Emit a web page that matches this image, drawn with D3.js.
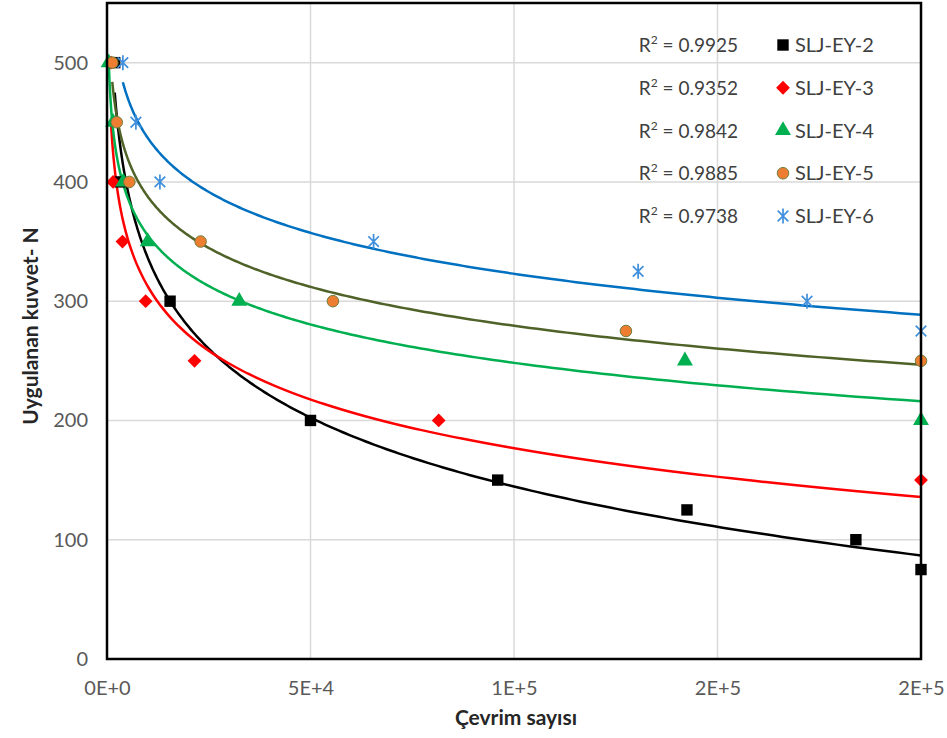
<!DOCTYPE html>
<html>
<head>
<meta charset="utf-8">
<script src="https://cdn.jsdelivr.net/npm/d3@7/dist/d3.min.js"></script>
<style>
    body { margin: 0; background: #fff; }
    svg { display: block; }
    text { font-family: Lato, "Open Sans", sans-serif; }
</style>
</head>
<body>
<div id="chart"></div>
<script>
// ---------------- data (cycles, applied load N)
const seriesNames = ["SLJ-EY-2", "SLJ-EY-3", "SLJ-EY-4", "SLJ-EY-5", "SLJ-EY-6"]
const ey2 = [[1900, 500], [3300, 400], [15500, 300], [50000, 200], [96000, 150], [142500, 125], [184000, 100], [200000, 75]]
const ey3 = [[1000, 500], [1500, 400], [3800, 350], [9500, 300], [21500, 250], [81500, 200], [200000, 150]]
const ey4 = [[400, 500], [1500, 450], [4000, 400], [10000, 350], [32500, 300], [142000, 250], [200000, 200]]
const ey5 = [[1300, 500], [2400, 450], [5500, 400], [23000, 350], [55500, 300], [127500, 275], [200000, 250]]
const ey6 = [[3900, 500], [7100, 450], [13000, 400], [65500, 350], [130500, 325], [172000, 300], [200000, 275]]
const rSquared = ["0.9925", "0.9352", "0.9842", "0.9885", "0.9738"]

const xTickValues = [0, 50000, 100000, 150000, 200000]
const xTickLabels = ["0E+0", "5E+4", "1E+5", "2E+5", "2E+5"]
const yTickValues = [0, 100, 200, 300, 400, 500]

// ---------------- dimensions
const dimensions = {
    width: 947,
    height: 738,
    margin: { top: 3, right: 26, bottom: 79, left: 107 }
}
dimensions.boundedWidth = dimensions.width - dimensions.margin.left - dimensions.margin.right
dimensions.boundedHeight = dimensions.height - dimensions.margin.top - dimensions.margin.bottom

const wrapper = d3.select("#chart")
    .append("svg")
    .attr("width", dimensions.width)
    .attr("height", dimensions.height)

const bounds = wrapper.append("g")
    .attr("transform", `translate(${dimensions.margin.left},${dimensions.margin.top})`)

// ---------------- scales
const xScale = d3.scaleLinear()
    .domain([0, 200000])
    .range([0, dimensions.boundedWidth])

const yScale = d3.scaleLinear()
    .domain([0, 550])
    .range([dimensions.boundedHeight, 0])

const allSeries = [ey2, ey3, ey4, ey5, ey6]
const lineColors = ["#000000", "#ff0000", "#00b050", "#4f6228", "#0070c0"]
const markerFill = ["#000000", "#ff0000", "#00b050", "#ed7d31", "none"]
const markerStroke = ["none", "none", "none", "#6f7f3a", "#3f8fdc"]

// ---------------- grid
bounds.append("g")
    .selectAll("line")
    .data(yTickValues.filter(d => d > 0))
    .join("line")
    .attr("x1", 0)
    .attr("x2", dimensions.boundedWidth)
    .attr("y1", d => yScale(d))
    .attr("y2", d => yScale(d))
    .attr("stroke", "#d9d9d9")
    .attr("stroke-width", 1.5)

bounds.append("g")
    .selectAll("line")
    .data(xTickValues.slice(1, -1))
    .join("line")
    .attr("x1", d => xScale(d))
    .attr("x2", d => xScale(d))
    .attr("y1", 0)
    .attr("y2", dimensions.boundedHeight)
    .attr("stroke", "#d9d9d9")
    .attr("stroke-width", 1.5)

// ---------------- axes
const xAxisGenerator = d3.axisBottom(xScale)
    .tickValues(xTickValues)
    .tickSize(0)
    .tickPadding(22)
    .tickFormat((d, i) => xTickLabels[i])

const yAxisGenerator = d3.axisLeft(yScale)
    .tickValues(yTickValues)
    .tickSize(0)
    .tickPadding(19)

const xAxis = bounds.append("g")
    .attr("transform", `translate(0,${dimensions.boundedHeight})`)
    .call(xAxisGenerator)
const yAxis = bounds.append("g")
    .call(yAxisGenerator)

for (const ax of [xAxis, yAxis]) {
    ax.select(".domain").remove()
    ax.selectAll("text")
        .attr("fill", "#595959")
        .style("font-size", "20px")
        .style("font-family", "Lato, sans-serif")
}

// axis titles
wrapper.append("text")
    .attr("x", 516)
    .attr("y", 725)
    .attr("text-anchor", "middle")
    .style("font-size", "21px")
    .style("font-weight", "bold")
    .attr("fill", "#262626")
    .text("Çevrim sayısı")

wrapper.append("text")
    .attr("transform", "translate(38,326) rotate(-90)")
    .attr("text-anchor", "middle")
    .style("font-size", "21px")
    .style("font-weight", "bold")
    .attr("fill", "#262626")
    .text("Uygulanan kuvvet- N")

// ---------------- logarithmic trendlines (least squares y = a ln x + b)
function logFit(points) {
    const lx = points.map(p => Math.log(p[0]))
    const ys = points.map(p => p[1])
    const mx = d3.mean(lx), my = d3.mean(ys)
    const a = d3.sum(lx, (v, i) => (v - mx) * (ys[i] - my)) / d3.sum(lx, v => (v - mx) ** 2)
    const b = my - a * mx
    return x => a * Math.log(x) + b
}

const lineGenerator = d3.line()
    .x(d => xScale(d[0]))
    .y(d => yScale(d[1]))

const trendGroup = bounds.append("g")
allSeries.forEach((points, i) => {
    const f = logFit(points)
    const [x0, x1] = d3.extent(points, d => d[0])
    const samples = d3.range(0, 301).map(k => {
        const x = Math.exp(Math.log(x0) + (Math.log(x1) - Math.log(x0)) * k / 300)
        return [x, f(x)]
    })
    trendGroup.append("path")
        .attr("d", lineGenerator(samples))
        .attr("fill", "none")
        .attr("stroke", lineColors[i])
        .attr("stroke-width", 2.5)
})

// ---------------- markers
const starPath = r => {
    const c = r * Math.SQRT1_2
    return `M0,${-r}L0,${r}M${-c},${-c}L${c},${c}M${-c},${c}L${c},${-c}`
}
const markerPath = [
    d3.symbol(d3.symbolSquare, 130)(),
    d3.symbol(d3.symbolSquare, 95)(),
    d3.symbol(d3.symbolTriangle, 110)(),
    d3.symbol(d3.symbolCircle, 105)(),
    starPath(7.5)
]
const markerRotate = [0, 45, 0, 0, 0]

allSeries.forEach((points, i) => {
    bounds.append("g")
        .selectAll("path")
        .data(points)
        .join("path")
        .attr("d", markerPath[i])
        .attr("transform", d => `translate(${xScale(d[0])},${yScale(d[1])}) rotate(${markerRotate[i]})`)
        .attr("fill", markerFill[i])
        .attr("stroke", markerStroke[i])
        .attr("stroke-width", i === 4 ? 1.7 : 1)
})

// ---------------- legend with R² labels
const legend = wrapper.append("g")
const rowY = d3.scaleLinear().domain([0, 4]).range([45, 216])

seriesNames.forEach((name, i) => {
    const y = rowY(i)
    const r2 = legend.append("text")
        .attr("x", 738)
        .attr("y", y + 7)
        .attr("text-anchor", "end")
        .attr("fill", "#404040")
        .style("font-size", "19px")
    r2.append("tspan").text("R")
    r2.append("tspan").text("2").style("font-size", "12px").attr("dy", -8)
    r2.append("tspan").text(" = " + rSquared[i]).attr("dy", 8)

    legend.append("path")
        .attr("d", markerPath[i])
        .attr("transform", `translate(783,${y}) rotate(${markerRotate[i]})`)
        .attr("fill", markerFill[i])
        .attr("stroke", markerStroke[i])
        .attr("stroke-width", i === 4 ? 1.7 : 1)

    legend.append("text")
        .attr("x", 795)
        .attr("y", y + 7)
        .attr("fill", "#404040")
        .style("font-size", "20px")
        .text(name)
})

// ---------------- plot border
bounds.append("rect")
    .attr("width", dimensions.boundedWidth)
    .attr("height", dimensions.boundedHeight)
    .attr("fill", "none")
    .attr("stroke", "#000")
    .attr("stroke-width", 2.5)
</script>
</body>
</html>
